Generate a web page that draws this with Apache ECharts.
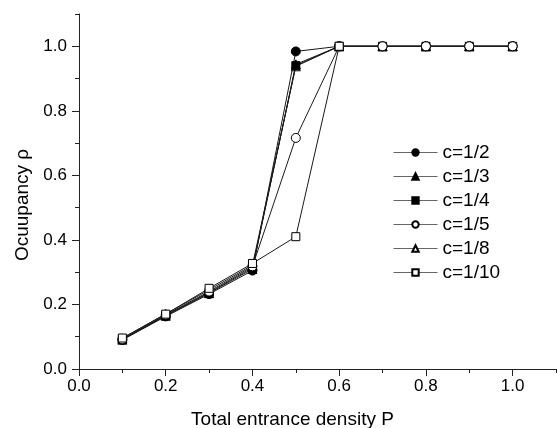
<!DOCTYPE html>
<html><head><meta charset="utf-8">
<script src="https://cdn.jsdelivr.net/npm/echarts@6/dist/echarts.min.js"></script>
<style>html,body{margin:0;padding:0;background:#fff}#c{width:557px;height:428px}</style>
</head><body><div id="c"></div>
<script>
var xValues = [0.1, 0.2, 0.3, 0.4, 0.5, 0.6, 0.7, 0.8, 0.9, 1.0];
var c2  = [0.090, 0.163, 0.232, 0.305, 0.984, 1, 1, 1, 1, 1];
var c3  = [0.091, 0.165, 0.235, 0.310, 0.944, 1, 1, 1, 1, 1];
var c4  = [0.092, 0.166, 0.237, 0.314, 0.940, 1, 1, 1, 1, 1];
var c5  = [0.092, 0.168, 0.240, 0.318, 0.716, 1, 1, 1, 1, 1];
var c8  = [0.095, 0.171, 0.245, 0.322, 0.938, 1, 1, 1, 1, 1];
var c10 = [0.096, 0.170, 0.250, 0.327, 0.410, 1];
var seriesNames = ['c=1/2', 'c=1/3', 'c=1/4', 'c=1/5', 'c=1/8', 'c=1/10'];
var majorTicks = [0, 0.2, 0.4, 0.6, 0.8, 1.0];

var FONT = 'Liberation Sans, Arial, sans-serif';
function pairs(arr){ return arr.map(function(v,i){ return [xValues[i], v]; }); }

var defs = [
  {name: seriesNames[0], data: c2,  symbol: 'circle',   fill: '#000', z: 2},
  {name: seriesNames[1], data: c3,  symbol: 'triangle', fill: '#000', z: 2},
  {name: seriesNames[2], data: c4,  symbol: 'rect',     fill: '#000', z: 2},
  {name: seriesNames[3], data: c5,  symbol: 'circle',   fill: '#fff', z: 3},
  {name: seriesNames[4], data: c8,  symbol: 'triangle', fill: '#fff', z: 1},
  {name: seriesNames[5], data: c10, symbol: 'rect',     fill: '#fff', z: 4}
];

var series = defs.map(function(d){
  return {
    name: d.name, type: 'line', xAxisIndex: 0, yAxisIndex: 0,
    data: pairs(d.data), z: d.z,
    symbol: d.symbol, symbolSize: d.symbol === 'rect' ? 8 : 9,
    showAllSymbol: true,
    lineStyle: {color: '#1a1a1a', width: 1},
    itemStyle: {color: d.fill, borderColor: '#000', borderWidth: 1},
    emphasis: {disabled: true},
    animation: false
  };
});

function axisPair(dim){
  var isX = dim === 'x';
  var major = {
    type: 'value', min: 0, max: 1.1, interval: 0.2,
    position: isX ? 'bottom' : 'left',
    axisLine: {show: true, lineStyle: {color: '#222', width: 1}},
    axisTick: {show: true, length: 7, inside: false, customValues: majorTicks, lineStyle: {color: '#222'}},
    axisLabel: {show: true, customValues: majorTicks, margin: isX ? 9 : 12, color: '#000', fontSize: 17, fontFamily: FONT,
      formatter: function(v){ return v.toFixed(1); }},
    splitLine: {show: false},
    name: isX ? 'Total entrance density P' : 'Ocuupancy \u03c1',
    nameLocation: 'middle',
    nameGap: isX ? 41 : 45,
    nameTextStyle: {color: '#000', fontSize: 19, fontFamily: FONT,
      padding: isX ? [0, 50, 0, 0] : [0, 27, 0, 0]}
  };
  var minor = {
    type: 'value', min: 0, max: 1.1, interval: 0.1,
    position: isX ? 'bottom' : 'left',
    axisLine: {show: false},
    axisTick: {show: true, length: 4, inside: false, lineStyle: {color: '#222'}},
    axisLabel: {show: false},
    splitLine: {show: false}
  };
  return [major, minor];
}

var chart = echarts.init(document.getElementById('c'), null, {renderer: 'canvas'});
chart.setOption({
  backgroundColor: '#fff',
  animation: false,
  grid: {left: 79, right: 1, top: 14, bottom: 59, containLabel: false, outerBoundsMode: 'none'},
  xAxis: axisPair('x'),
  yAxis: axisPair('y'),
  legend: {
    orient: 'vertical', left: 388, top: 138,
    itemWidth: 44, itemHeight: 8, itemGap: 5,
    data: seriesNames,
    textStyle: {color: '#000', fontSize: 19, fontFamily: FONT},
    lineStyle: {color: '#666', width: 1},
    selectedMode: false
  },
  series: series
});
</script>
</body></html>
